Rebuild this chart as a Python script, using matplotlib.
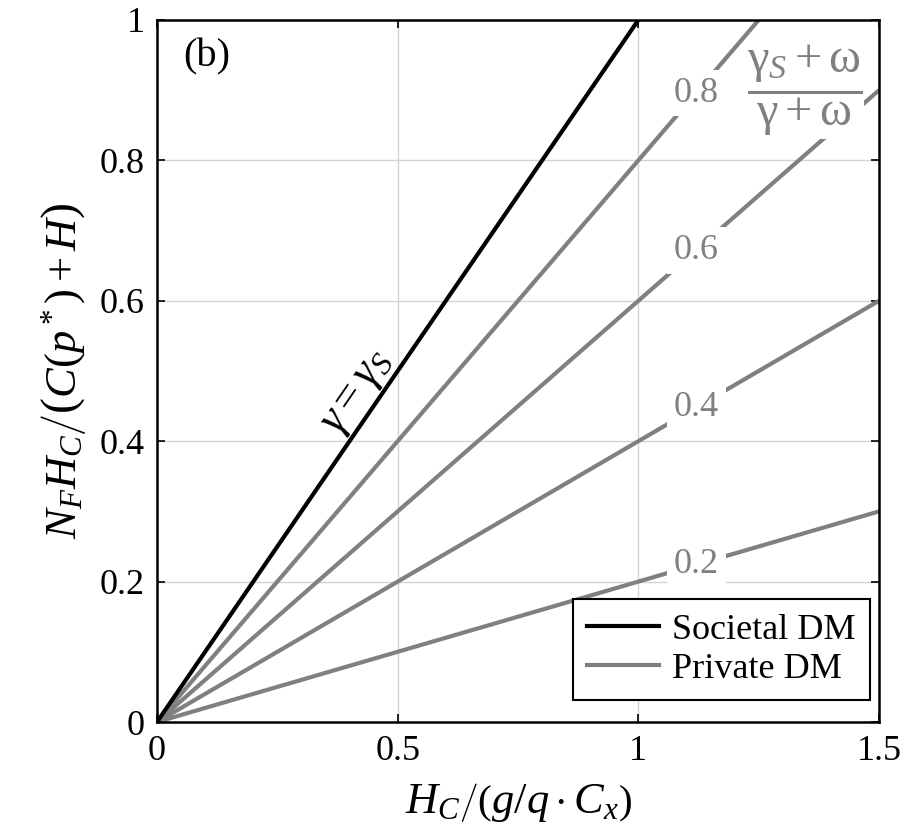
import matplotlib
matplotlib.use('Agg')
import matplotlib.pyplot as plt
import numpy as np

plt.rcParams['font.family'] = ['Liberation Serif', 'DejaVu Serif']
plt.rcParams['mathtext.fontset'] = 'custom'
plt.rcParams['mathtext.rm'] = 'Liberation Serif'
plt.rcParams['mathtext.it'] = 'Liberation Serif:italic'
plt.rcParams['mathtext.bf'] = 'Liberation Serif:bold'

# data
x_range = [0, 1.5]
societal_slope = 1.0
private_slopes = [0.2, 0.4, 0.6, 0.8]
private_labels = ['0.2', '0.4', '0.6', '0.8']
label_x = 1.12
x_ticks = [0, 0.5, 1, 1.5]
x_ticklabels = ['0', '0.5', '1', '1.5']
y_ticks = [0, 0.2, 0.4, 0.6, 0.8, 1]
y_ticklabels = ['0', '0.2', '0.4', '0.6', '0.8', '1']

grey = '#808080'

fig = plt.figure(figsize=(9.09, 8.38), dpi=100)
ax = fig.add_axes([157/909, 116/838, 722/909, 702/838])

xs = np.array(x_range)
for s in private_slopes:
    ax.plot(xs, s*xs, color=grey, lw=3, solid_capstyle='butt', zorder=2)
ax.plot(xs, societal_slope*xs, color='black', lw=3, zorder=2.2)

for s, lab in zip(private_slopes, private_labels):
    ax.text(label_x, s*label_x, lab, color=grey, fontsize=26, ha='center', va='center',
            bbox=dict(facecolor='white', edgecolor='none', pad=5), zorder=3)

# ratio label, upright greek
ax.text(1.346, 0.90, r'$\dfrac{\mathrm{\gamma}_S+\mathrm{\omega}}{\mathrm{\gamma}+\mathrm{\omega}}$',
        color=grey, fontsize=35, ha='center', va='center',
        bbox=dict(facecolor='white', edgecolor='none', pad=1), zorder=3)

ax.text(0.415, 0.47, r'$\gamma=\gamma_S$', color='black', fontsize=33, ha='center', va='center',
        rotation=55.6, rotation_mode='anchor', zorder=3)

ax.text(0.069, 0.947, '(b)', transform=ax.transAxes, fontsize=29, ha='center', va='center')

ax.plot([], [], color='black', lw=3, label='Societal DM')
ax.plot([], [], color=grey, lw=3, label='Private DM')
h, l = ax.get_legend_handles_labels()
leg = ax.legend(h[-2:], l[-2:], loc='lower right', bbox_to_anchor=(0.9875, 0.031),
                borderaxespad=0, fontsize=26, fancybox=False, framealpha=1,
                edgecolor='black', handlelength=2.0, handletextpad=0.35,
                labelspacing=0.15, borderpad=0.4)
leg.get_frame().set_linewidth(1.5)
leg.set_zorder(5)

ax.set_xlim(x_range)
ax.set_ylim(0, 1)
ax.set_xticks(x_ticks)
ax.set_xticklabels(x_ticklabels)
ax.set_yticks(y_ticks)
ax.set_yticklabels(y_ticklabels)
ax.tick_params(direction='in', top=True, right=True, length=6, width=1.2,
               labelsize=26, pad=9)
ax.grid(True, color='#d3d3d3', lw=1)
ax.set_axisbelow(True)
for sp in ax.spines.values():
    sp.set_linewidth(1.8)

ax.set_xlabel(r'$H_C\left/\left(g/q\cdot C_x\right)\right.$', fontsize=32, labelpad=10)
ax.set_ylabel(r'$N_FH_C\left/\left(C(p^*)+H\right)\right.$', fontsize=32, labelpad=8)

fig.savefig('out.png', dpi=100)
